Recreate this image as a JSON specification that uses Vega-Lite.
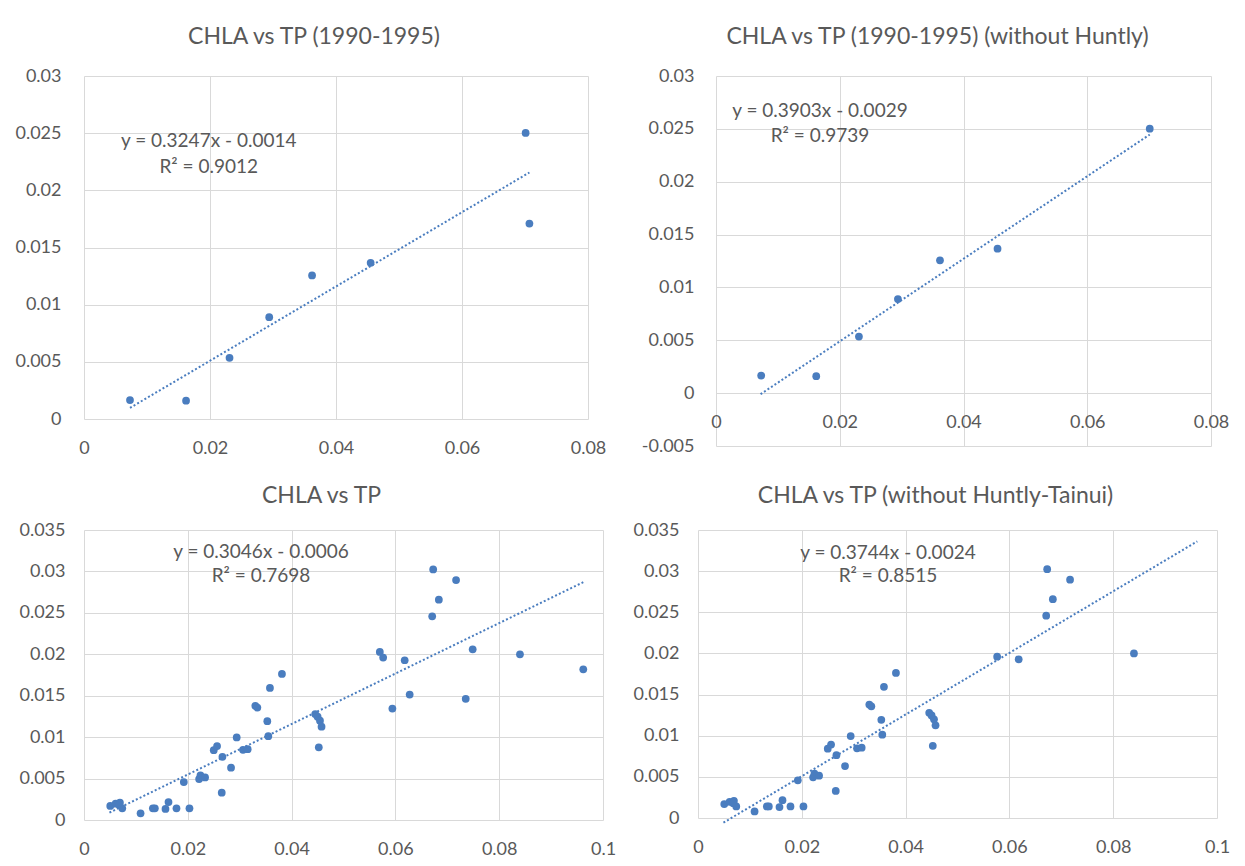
{
  "$schema": "https://vega.github.io/schema/vega-lite/v6.json",
  "padding": {"left": 14, "top": 26, "right": 0, "bottom": 0},
  "background": "white",
  "datasets": {
    "early": [
      {"tp": 0.0073, "chla": 0.00166, "huntly": false},
      {"tp": 0.0162, "chla": 0.0016, "huntly": false},
      {"tp": 0.0231, "chla": 0.00535, "huntly": false},
      {"tp": 0.0294, "chla": 0.0089, "huntly": false},
      {"tp": 0.0362, "chla": 0.01256, "huntly": false},
      {"tp": 0.0455, "chla": 0.01366, "huntly": false},
      {"tp": 0.0701, "chla": 0.02502, "huntly": false},
      {"tp": 0.0707, "chla": 0.01709, "huntly": true}
    ],
    "all": [
      {"tp": 0.00506, "chla": 0.00169, "ht": false},
      {"tp": 0.00609, "chla": 0.00197, "ht": false},
      {"tp": 0.00692, "chla": 0.00209, "ht": false},
      {"tp": 0.0068, "chla": 0.0018, "ht": false},
      {"tp": 0.00737, "chla": 0.00141, "ht": false},
      {"tp": 0.0109, "chla": 0.0008, "ht": false},
      {"tp": 0.01327, "chla": 0.00141, "ht": false},
      {"tp": 0.01365, "chla": 0.00141, "ht": false},
      {"tp": 0.0157, "chla": 0.00133, "ht": false},
      {"tp": 0.01628, "chla": 0.00217, "ht": false},
      {"tp": 0.01782, "chla": 0.00141, "ht": false},
      {"tp": 0.02032, "chla": 0.00141, "ht": false},
      {"tp": 0.01923, "chla": 0.00458, "ht": false},
      {"tp": 0.02218, "chla": 0.00494, "ht": false},
      {"tp": 0.02244, "chla": 0.00538, "ht": false},
      {"tp": 0.02333, "chla": 0.00514, "ht": false},
      {"tp": 0.02654, "chla": 0.00329, "ht": false},
      {"tp": 0.02833, "chla": 0.00631, "ht": false},
      {"tp": 0.02667, "chla": 0.00763, "ht": false},
      {"tp": 0.025, "chla": 0.00843, "ht": false},
      {"tp": 0.02564, "chla": 0.00892, "ht": false},
      {"tp": 0.02942, "chla": 0.00996, "ht": false},
      {"tp": 0.03064, "chla": 0.00847, "ht": false},
      {"tp": 0.03154, "chla": 0.00855, "ht": false},
      {"tp": 0.03301, "chla": 0.01378, "ht": false},
      {"tp": 0.0334, "chla": 0.01357, "ht": false},
      {"tp": 0.03532, "chla": 0.01193, "ht": false},
      {"tp": 0.03551, "chla": 0.01012, "ht": false},
      {"tp": 0.03583, "chla": 0.01594, "ht": false},
      {"tp": 0.03814, "chla": 0.01763, "ht": false},
      {"tp": 0.04455, "chla": 0.01279, "ht": false},
      {"tp": 0.04501, "chla": 0.01247, "ht": false},
      {"tp": 0.04547, "chla": 0.01199, "ht": false},
      {"tp": 0.04577, "chla": 0.01126, "ht": false},
      {"tp": 0.04524, "chla": 0.00877, "ht": false},
      {"tp": 0.057, "chla": 0.02028, "ht": true},
      {"tp": 0.05764, "chla": 0.0196, "ht": false},
      {"tp": 0.05942, "chla": 0.01345, "ht": true},
      {"tp": 0.06179, "chla": 0.01928, "ht": false},
      {"tp": 0.06275, "chla": 0.01514, "ht": true},
      {"tp": 0.06728, "chla": 0.03024, "ht": false},
      {"tp": 0.07169, "chla": 0.02896, "ht": false},
      {"tp": 0.06837, "chla": 0.02659, "ht": false},
      {"tp": 0.06709, "chla": 0.02458, "ht": false},
      {"tp": 0.07489, "chla": 0.0206, "ht": true},
      {"tp": 0.07355, "chla": 0.01462, "ht": true},
      {"tp": 0.084, "chla": 0.02, "ht": false},
      {"tp": 0.0962, "chla": 0.01818, "ht": true}
    ],
    "trends": [
      {"panel": "tl", "tp": 0.0073, "chla": 0.00097},
      {"panel": "tl", "tp": 0.0707, "chla": 0.02156},
      {"panel": "tr", "tp": 0.0072, "chla": -0.0001},
      {"panel": "tr", "tp": 0.0701, "chla": 0.02446},
      {"panel": "bl", "tp": 0.0049, "chla": 0.00089},
      {"panel": "bl", "tp": 0.0962, "chla": 0.0287},
      {"panel": "br", "tp": 0.0049, "chla": -0.00057},
      {"panel": "br", "tp": 0.0962, "chla": 0.03362}
    ],
    "notes": [
      {"panel": "tl", "tp": 0.0198, "chla": 0.02431, "label": "y = 0.3247x - 0.0014"},
      {"panel": "tl", "tp": 0.0198, "chla": 0.02204, "label": "R² = 0.9012"},
      {"panel": "tr", "tp": 0.0168, "chla": 0.02669, "label": "y = 0.3903x - 0.0029"},
      {"panel": "tr", "tp": 0.0168, "chla": 0.02432, "label": "R² = 0.9739"},
      {"panel": "bl", "tp": 0.0341, "chla": 0.03231, "label": "y = 0.3046x - 0.0006"},
      {"panel": "bl", "tp": 0.0341, "chla": 0.02945, "label": "R² = 0.7698"},
      {"panel": "br", "tp": 0.0366, "chla": 0.0322, "label": "y = 0.3744x - 0.0024"},
      {"panel": "br", "tp": 0.0366, "chla": 0.02937, "label": "R² = 0.8515"}
    ]
  },
  "spacing": 28,
  "align": "none",
  "vconcat": [
    {
      "spacing": 35,
      "hconcat": [
        {
          "width": 504, "height": 343,
          "title": {"text": "CHLA vs TP (1990-1995)", "dx": -22, "offset": 18},
          "encoding": {
            "x": {"field": "tp", "type": "quantitative", "title": null, "scale": {"domain": [0, 0.08], "nice": false},
                  "axis": {"values": [0, 0.02, 0.04, 0.06, 0.08], "labelPadding": 20}},
            "y": {"field": "chla", "type": "quantitative", "title": null, "scale": {"domain": [0, 0.03], "nice": false},
                  "axis": {"values": [0, 0.005, 0.01, 0.015, 0.02, 0.025, 0.03], "labelPadding": 23}}
          },
          "layer": [
            {"data": {"name": "early"}, "mark": {"type": "circle", "size": 60, "opacity": 1, "color": "#4a7dbf"}},
            {"data": {"name": "trends"}, "transform": [{"filter": "datum.panel === 'tl'"}],
             "mark": {"type": "line", "color": "#4a7dbf", "strokeWidth": 2, "strokeDash": [2, 2.2]}},
            {"data": {"name": "notes"}, "transform": [{"filter": "datum.panel === 'tl'"}],
             "mark": {"type": "text", "fontSize": 19, "color": "#595959", "align": "center", "baseline": "middle"},
             "encoding": {"text": {"field": "label"}}}
          ]
        },
        {
          "width": 495, "height": 370,
          "title": {"text": "CHLA vs TP (1990-1995) (without Huntly)", "dx": -26, "offset": 18},
          "encoding": {
            "x": {"field": "tp", "type": "quantitative", "title": null, "scale": {"domain": [0, 0.08], "nice": false},
                  "axis": {"values": [0, 0.02, 0.04, 0.06, 0.08], "labelPadding": -33}},
            "y": {"field": "chla", "type": "quantitative", "title": null, "scale": {"domain": [-0.005, 0.03], "nice": false},
                  "axis": {"values": [-0.005, 0, 0.005, 0.01, 0.015, 0.02, 0.025, 0.03], "labelPadding": 22}}
          },
          "layer": [
            {"data": {"name": "early"}, "transform": [{"filter": "!datum.huntly"}],
             "mark": {"type": "circle", "size": 60, "opacity": 1, "color": "#4a7dbf"}},
            {"data": {"name": "trends"}, "transform": [{"filter": "datum.panel === 'tr'"}],
             "mark": {"type": "line", "color": "#4a7dbf", "strokeWidth": 2, "strokeDash": [2, 2.2]}},
            {"data": {"name": "notes"}, "transform": [{"filter": "datum.panel === 'tr'"}],
             "mark": {"type": "text", "fontSize": 19, "color": "#595959", "align": "center", "baseline": "middle"},
             "encoding": {"text": {"field": "label"}}}
          ]
        }
      ]
    },
    {
      "spacing": 16,
      "hconcat": [
        {
          "width": 519, "height": 290,
          "title": {"text": "CHLA vs TP", "dx": -22, "offset": 13},
          "encoding": {
            "x": {"field": "tp", "type": "quantitative", "title": null, "scale": {"domain": [0, 0.1], "nice": false},
                  "axis": {"values": [0, 0.02, 0.04, 0.06, 0.08, 0.1], "labelPadding": 20}},
            "y": {"field": "chla", "type": "quantitative", "title": null, "scale": {"domain": [0, 0.035], "nice": false},
                  "axis": {"values": [0, 0.005, 0.01, 0.015, 0.02, 0.025, 0.03, 0.035], "labelPadding": 19}}
          },
          "layer": [
            {"data": {"name": "all"}, "mark": {"type": "circle", "size": 60, "opacity": 1, "color": "#4a7dbf"}},
            {"data": {"name": "trends"}, "transform": [{"filter": "datum.panel === 'bl'"}],
             "mark": {"type": "line", "color": "#4a7dbf", "strokeWidth": 2, "strokeDash": [2, 2.2]}},
            {"data": {"name": "notes"}, "transform": [{"filter": "datum.panel === 'bl'"}],
             "mark": {"type": "text", "fontSize": 19, "color": "#595959", "align": "center", "baseline": "middle"},
             "encoding": {"text": {"field": "label"}}}
          ]
        },
        {
          "width": 519, "height": 288,
          "title": {"text": "CHLA vs TP (without Huntly-Tainui)", "dx": -22, "offset": 13},
          "encoding": {
            "x": {"field": "tp", "type": "quantitative", "title": null, "scale": {"domain": [0, 0.1], "nice": false},
                  "axis": {"values": [0, 0.02, 0.04, 0.06, 0.08, 0.1], "labelPadding": 20}},
            "y": {"field": "chla", "type": "quantitative", "title": null, "scale": {"domain": [0, 0.035], "nice": false},
                  "axis": {"values": [0, 0.005, 0.01, 0.015, 0.02, 0.025, 0.03, 0.035], "labelPadding": 19}}
          },
          "layer": [
            {"data": {"name": "all"}, "transform": [{"filter": "!datum.ht"}],
             "mark": {"type": "circle", "size": 60, "opacity": 1, "color": "#4a7dbf"}},
            {"data": {"name": "trends"}, "transform": [{"filter": "datum.panel === 'br'"}],
             "mark": {"type": "line", "color": "#4a7dbf", "strokeWidth": 2, "strokeDash": [2, 2.2]}},
            {"data": {"name": "notes"}, "transform": [{"filter": "datum.panel === 'br'"}],
             "mark": {"type": "text", "fontSize": 19, "color": "#595959", "align": "center", "baseline": "middle"},
             "encoding": {"text": {"field": "label"}}}
          ]
        }
      ]
    }
  ],
  "config": {
    "font": "Lato",
    "view": {"stroke": null},
    "axis": {
      "grid": true, "gridColor": "#d9d9d9", "gridWidth": 1,
      "domain": false, "ticks": false, "tickSize": 0,
      "labelColor": "#595959", "labelFont": "Lato", "labelFontSize": 18,
      "labelFlush": false, "labelOverlap": false,
      "format": "~g",
      "labelExpr": "replace(datum.label, '\u2212', '-')"
    },
    "title": {"color": "#595959", "font": "Lato", "fontSize": 23, "fontWeight": "normal", "anchor": "middle", "frame": "group"}
  }
}
